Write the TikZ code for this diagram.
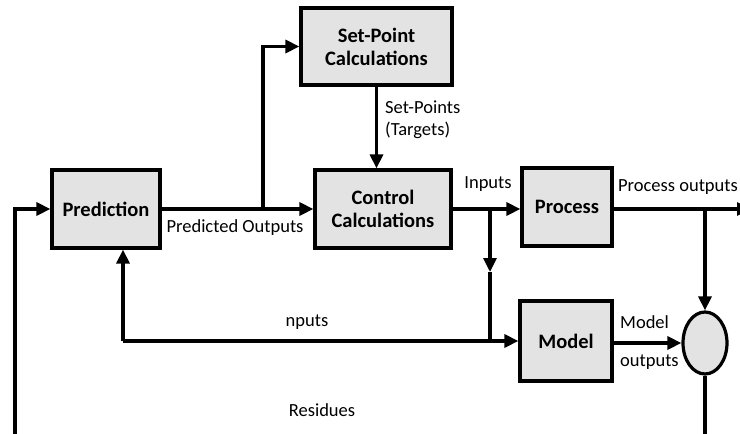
\documentclass[tikz,border=0pt]{standalone}
\usepackage{fontspec}
\setmainfont{Carlito}
\usepackage{xcolor}
\usetikzlibrary{positioning,arrows.meta,shapes.geometric}
\definecolor{BlockFill}{HTML}{E3E3E3}

\begin{document}
\begin{tikzpicture}[x=1pt,y=-1pt,
 block/.style={draw,line width=3.2pt,fill=BlockFill,inner sep=0pt,align=center,font=\fontsize{20.5}{23}\selectfont\bfseries},
 sumnode/.style={draw,line width=3.2pt,fill=BlockFill,ellipse,inner sep=0pt,minimum width=44pt,minimum height=62pt},
 line/.style={line width=3.2pt},
 flow/.style={line,-{Triangle[length=14pt,width=13pt]}},
 lbl/.style={font=\fontsize{18.5}{22}\selectfont,inner sep=0pt}]
\useasboundingbox (0,0) rectangle (740,434);
\node[block,minimum width=108pt,minimum height=78pt] (pred) at (106,209) {Prediction};
\node[block,minimum width=151pt,minimum height=77pt] (setpt) at (376.5,46.5) {Set-Point\\Calculations};
\node[block,minimum width=136pt,minimum height=78pt] (ctrl) at (383,209) {Control\\Calculations};
\node[block,minimum width=90pt,minimum height=78pt] (proc) at (567,207) {Process};
\node[block,minimum width=92pt,minimum height=80pt] (model) at (566,341) {Model};
\node[sumnode] (sum) at (705,343) {};
\coordinate (resin) at (15,440);
\coordinate (pbr) at (263,209);
\coordinate (ibr) at (490,209);
\coordinate (idn) at (490,272);
\coordinate (ifb) at (123,341);
\coordinate (obr) at (705,209);
\coordinate (pout) at (751,209);
\coordinate (resout) at (705,440);
\draw[flow] (resin) |- (pred.west);
\draw[flow] (pred.east) -- (ctrl.west);
\draw[flow] (pbr) |- (setpt.west);
\draw[flow] (setpt.south) -- (setpt.south |- ctrl.north);
\draw[flow] (ctrl.east |- ibr) -- (proc.west |- ibr);
\draw[flow] (ibr) -- (idn);
\draw[line] (idn) -- (ibr |- ifb);
\draw[flow] (ifb) -- (ifb |- pred.south);
\draw[flow] (ifb) -- (model.west);
\draw[flow] (proc.east |- obr) -- (pout);
\draw[flow] (obr) -- (sum.north);
\draw[flow] (model.east |- sum.west) -- (sum.west);
\draw[line] (sum.south) -- (resout);
\node[lbl] (lpred) at (235,228) {Predicted Outputs};
\node[lbl,anchor=west,align=left] (lsp) at (385,120) {Set-Points\\(Targets)};
\node[lbl] (lin) at (488,184) {Inputs};
\node[lbl] (lpout) at (678,187) {Process outputs};
\node[lbl] (lfb) at (307,322) {nputs};
\node[lbl,anchor=west] (lmo1) at (620,322) {Model};
\node[lbl,anchor=west] (lmo2) at (620,362) {outputs};
\node[lbl] (lres) at (322,410) {Residues};
\end{tikzpicture}
\end{document}
